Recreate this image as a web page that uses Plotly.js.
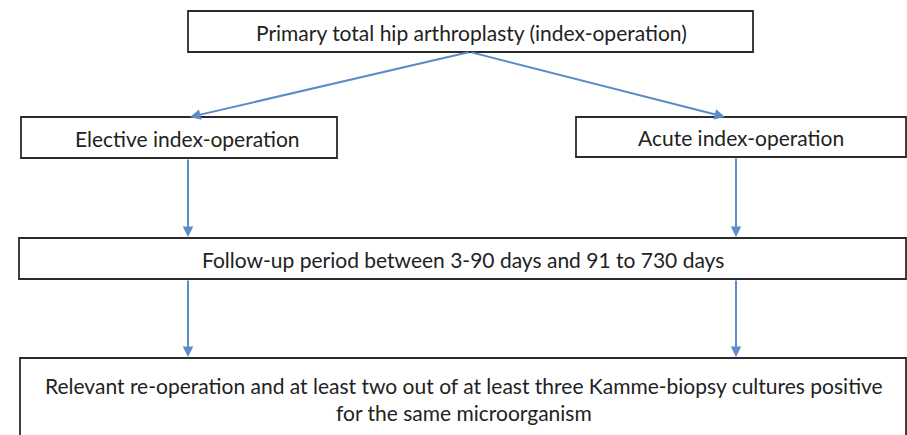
<!DOCTYPE html>
<html>
<head>
<meta charset="utf-8">
<script src="https://cdn.plot.ly/plotly-3.0.1.min.js"></script>
<style>
  html, body { margin: 0; padding: 0; background: #ffffff; }
  #chart { width: 907px; height: 435px; }
</style>
</head>
<body>
<div id="chart"></div>
<script>
// ---- Data: flowchart nodes and links ----
const nodeLabels = [
  "Primary total hip arthroplasty (index-operation)",
  "Elective index-operation",
  "Acute index-operation",
  "Follow-up period between 3-90 days and 91 to 730 days",
  "Relevant re-operation and at least two out of at least three Kamme-biopsy cultures positive<br>for the same microorganism"
];
const linkFrom = [0, 0, 1, 2, 3, 3];
const linkTo   = [1, 2, 3, 3, 4, 4];

// ---- Layout geometry (pixel frame of the 907x435 picture) ----
const boxGeom = [
  { x0: 188, x1: 753, y0: 11,  y1: 52 },
  { x0: 21,  x1: 337, y0: 117, y1: 158 },
  { x0: 576, x1: 906, y0: 117, y1: 157 },
  { x0: 19,  x1: 906, y0: 238, y1: 279 },
  { x0: 20,  x1: 906, y0: 358, y1: 460 }
];
const textCenter = [
  { x: 471, y: 32 },
  { x: 187, y: 138 },
  { x: 741, y: 137 },
  { x: 463, y: 259 },
  { x: 464, y: 399 }
];
const linkGeom = [
  { ax: 470, ay: 52,  x: 190, y: 117 },
  { ax: 470, ay: 52,  x: 725, y: 117 },
  { ax: 188, ay: 158, x: 188, y: 237 },
  { ax: 736, ay: 157, x: 736, y: 237 },
  { ax: 188, ay: 279, x: 188, y: 357 },
  { ax: 736, ay: 279, x: 736, y: 357 }
];

const FONT = "Lato, 'Open Sans', sans-serif";
const BOX_LINE = "#2b2b2b";
const ARROW = "#5b8bc8";

const shapes = nodeLabels.map((_, i) => ({
  type: "rect", xref: "x", yref: "y",
  x0: boxGeom[i].x0, x1: boxGeom[i].x1, y0: boxGeom[i].y0, y1: boxGeom[i].y1,
  line: { color: BOX_LINE, width: 1.8 },
  fillcolor: "rgba(0,0,0,0)",
  layer: "above"
}));

const textAnns = nodeLabels.map((label, i) => ({
  x: textCenter[i].x, y: textCenter[i].y, xref: "x", yref: "y",
  text: label, showarrow: false,
  xanchor: "center", yanchor: "middle", align: "center",
  font: { family: FONT, size: 21, color: "#222222" }
}));

const arrowAnns = linkFrom.map((f, i) => ({
  x: linkGeom[i].x, y: linkGeom[i].y, ax: linkGeom[i].ax, ay: linkGeom[i].ay,
  xref: "x", yref: "y", axref: "x", ayref: "y",
  text: "", showarrow: true,
  arrowhead: 2, arrowsize: 1.05, arrowwidth: 2, arrowcolor: ARROW,
  standoff: 0, startstandoff: 0
}));

const layout = {
  width: 907, height: 435,
  margin: { l: 0, r: 0, t: 0, b: 0, pad: 0 },
  paper_bgcolor: "#ffffff", plot_bgcolor: "#ffffff",
  showlegend: false,
  xaxis: { range: [0, 907], visible: false, fixedrange: true },
  yaxis: { range: [435, 0], visible: false, fixedrange: true },
  shapes: shapes,
  annotations: arrowAnns.concat(textAnns)
};

Plotly.newPlot("chart", [{ x: [], y: [], type: "scatter", mode: "markers", hoverinfo: "skip" }], layout,
  { displayModeBar: false, staticPlot: true });
</script>
</body>
</html>
